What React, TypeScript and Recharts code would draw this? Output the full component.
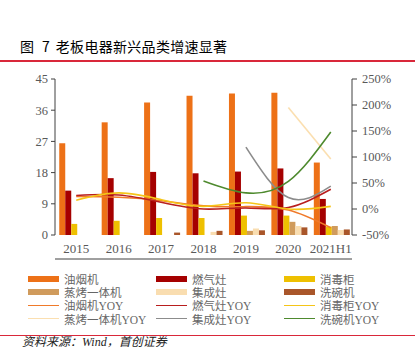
import React from 'react';
import { ComposedChart, Bar, Line, XAxis, YAxis } from 'recharts';

// categories
const years = ['2015', '2016', '2017', '2018', '2019', '2020', '2021H1'];

// bar series (left axis, 亿元)
const youyanji = [26.5, 32.5, 38.2, 40.2, 40.8, 41.0, 20.9];
const ranqizao = [12.8, 16.4, 18.2, 17.8, 18.3, 19.2, 10.4];
const xiaodugui = [3.2, 4.1, 4.9, 4.9, 5.6, 5.6, 2.4];
const zhengkao = [null, null, null, null, 1.2, 3.8, 2.6];
const jichengzao = [null, null, null, 0.9, 1.9, 2.6, 1.45];
const xiwanji = [null, null, 0.7, 1.2, 1.35, 2.2, 1.6];

// yoy series (right axis, %)
const youyanjiYoy = [24, 22.5, 16, 6, 4.5, -2, -36];
const ranqizaoYoy = [26, 27, 13, 0, 2, 3, 38];
const xiaoduguiYoy = [17, 31, 18, 5, 12, 0, 5];
const zhengkaoYoy = [null, null, null, null, null, 195, 96];
const jichengzaoYoy = [null, null, null, null, 119, 22, 44];
const xiwanjiYoy = [null, null, null, 54, 31, 53, 148];

// axis ticks
const leftTicks = [0, 9, 18, 27, 36, 45];
const rightTicks = [-50, 0, 50, 100, 150, 200, 250];
const frameTicks = [0, 1, 2, 3, 4, 5, 6, 7];

const barSeries = [
  { key: 'youyanji', name: '油烟机', color: '#ED7117', values: youyanji },
  { key: 'ranqizao', name: '燃气灶', color: '#A50000', values: ranqizao },
  { key: 'xiaodugui', name: '消毒柜', color: '#EEC000', values: xiaodugui },
  { key: 'zhengkao', name: '蒸烤一体机', color: '#D09B5C', values: zhengkao },
  { key: 'jichengzao', name: '集成灶', color: '#F9DDB0', values: jichengzao },
  { key: 'xiwanji', name: '洗碗机', color: '#A9562A', values: xiwanji },
];

const lineSeries = [
  { key: 'youyanjiYoy', name: '油烟机YOY', color: '#F07A2A', values: youyanjiYoy },
  { key: 'ranqizaoYoy', name: '燃气灶YOY', color: '#B81E1E', values: ranqizaoYoy },
  { key: 'xiaoduguiYoy', name: '消毒柜YOY', color: '#F5C518', values: xiaoduguiYoy },
  { key: 'zhengkaoYoy', name: '蒸烤一体机YOY', color: '#FBDFB0', values: zhengkaoYoy },
  { key: 'jichengzaoYoy', name: '集成灶YOY', color: '#8C8C8C', values: jichengzaoYoy },
  { key: 'xiwanjiYoy', name: '洗碗机YOY', color: '#4E8A2E', values: xiwanjiYoy },
];

const data = years.map((year, i) => {
  const row: Record<string, any> = { year };
  barSeries.forEach(s => { row[s.key] = s.values[i]; });
  lineSeries.forEach(s => { row[s.key] = s.values[i]; });
  return row;
});

const serif = '"Liberation Serif", "Noto Sans CJK SC", serif';
const axisText = { fill: '#595959', fontSize: 12.5, fontFamily: serif };

const legendItems = [
  ...barSeries.map(s => ({ ...s, kind: 'bar' })),
  ...lineSeries.map(s => ({ ...s, kind: 'line' })),
];

const LegendBlock = () => (
  <div style={{ position: 'absolute', left: 0, top: 272, width: 415 }}>
    {legendItems.map((item, i) => {
      const col = i % 3;
      const row = Math.floor(i / 3);
      return (
        <div
          key={item.key}
          style={{
            position: 'absolute',
            left: 28 + col * 128,
            top: row * 13.4,
            height: 13,
            display: 'flex',
            alignItems: 'center',
            whiteSpace: 'nowrap',
          }}
        >
          <div
            style={{
              width: 31,
              height: item.kind === 'bar' ? 6 : 1.6,
              background: item.color,
              marginRight: 5,
            }}
          />
          <span style={{ fontSize: 11.5, color: '#666', fontFamily: serif }}>{item.name}</span>
        </div>
      );
    })}
  </div>
);

export default function App() {
  return (
    <div
      style={{
        position: 'absolute',
        left: 0,
        top: 0,
        width: 415,
        height: 351,
        background: '#fff',
        overflow: 'hidden',
        fontFamily: '"Noto Sans CJK SC", sans-serif',
      }}
    >
      <div style={{ position: 'absolute', left: 20, top: 37, fontSize: 14, color: '#000', whiteSpace: 'nowrap', lineHeight: '18px' }}>
        <span>图</span>
        <span style={{ marginLeft: 8 }}>7</span>
        <span style={{ marginLeft: 6, letterSpacing: 0.3 }}>老板电器新兴品类增速显著</span>
      </div>
      <div style={{ position: 'absolute', left: 0, top: 60, width: 415, height: 1.5, background: '#D9283A' }} />

      <div style={{ position: 'absolute', left: 0, top: 70 }}>
        <ComposedChart
          width={415}
          height={190}
          data={data}
          margin={{ top: 9, right: 0, bottom: 0, left: 0 }}
          barCategoryGap="10%"
          barGap={0}
        >
          <XAxis
            xAxisId="frame"
            type="number"
            domain={[0, 7]}
            ticks={frameTicks}
            tick={false}
            tickSize={4}
            height={1}
            stroke="#404040"
            allowDataOverflow
          />
          <XAxis
            xAxisId="cat"
            dataKey="year"
            axisLine={false}
            tickLine={false}
            tickSize={0}
            tickMargin={9}
            height={24}
            interval={0}
            tick={{ ...axisText, fontSize: 13 }}
          />
          <YAxis
            yAxisId="left"
            domain={[0, 45]}
            ticks={leftTicks}
            width={55}
            tickSize={4}
            tickMargin={3}
            stroke="#404040"
            tick={axisText}
            interval={0}
          />
          <YAxis
            yAxisId="right"
            orientation="right"
            domain={[-50, 250]}
            ticks={rightTicks}
            width={63}
            tickSize={5}
            tickMargin={5}
            stroke="#404040"
            tick={axisText}
            tickFormatter={(v: number) => `${v}%`}
            interval={0}
          />
          {barSeries.map(s => (
            <Bar
              key={s.key}
              xAxisId="cat"
              yAxisId="left"
              dataKey={s.key}
              name={s.name}
              fill={s.color}
              isAnimationActive={false}
            />
          ))}
          {lineSeries.map(s => (
            <Line
              key={s.key}
              xAxisId="cat"
              yAxisId="right"
              type="natural"
              dataKey={s.key}
              name={s.name}
              stroke={s.color}
              strokeWidth={1.6}
              dot={false}
              activeDot={false}
              isAnimationActive={false}
            />
          ))}
        </ComposedChart>
      </div>

      <LegendBlock />

      <div style={{ position: 'absolute', left: 0, top: 335, width: 415, height: 1.2, background: '#D9283A' }} />
      <div
        style={{
          position: 'absolute',
          left: 22,
          top: 335,
          fontSize: 12,
          lineHeight: '15px',
          fontStyle: 'italic',
          color: '#222',
          whiteSpace: 'nowrap',
          fontFamily: serif,
        }}
      >
        资料来源：Wind，首创证券
      </div>
    </div>
  );
}
